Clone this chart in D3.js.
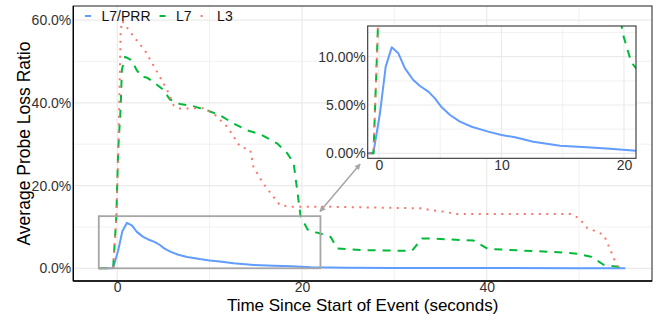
<!DOCTYPE html>
<html>
<head>
<meta charset="utf-8">
<script src="https://cdn.jsdelivr.net/npm/d3@7"></script>
<style>
  body { margin: 0; background: #fff; }
  svg { font-family: "Liberation Sans", Arial, sans-serif; }
  .tick text { fill: #333; font-size: 14px; }
</style>
</head>
<body>
<main></main>
<script>
//Series data (x in seconds, y in percent)
const seriesNames = ["L7/PRR", "L7", "L3"];
const seriesColors = ["#619CFF", "#00BA38", "#F8766D"];

const prrX = [-2, -0.46, 0.08, 0.55, 1.04, 1.58, 2.12, 2.8, 3.35, 4.03, 4.57, 5.12, 5.8, 6.61, 7.57, 8.92, 10.0, 11.1, 12.6, 14.78, 16.96, 18.86, 20.98, 25, 30, 40, 50, 55];
const prrY = [0, 0, 4.14, 8.97, 10.97, 10.35, 8.8, 7.59, 6.97, 6.38, 5.69, 4.76, 3.96, 3.27, 2.75, 2.24, 1.89, 1.66, 1.2, 0.79, 0.62, 0.48, 0.27, 0.15, 0.08, 0.05, 0.04, 0.02];

const l7X = [-2, -0.45, -0.1, 0.1, 0.37, 0.5, 0.85, 1.56, 2.1, 2.65, 3.2, 3.9, 5.0, 5.7, 6.8, 8.2, 9.7, 11.1, 12.6, 14.0, 15.5, 17.3, 18.4, 19.1, 19.85, 20.6, 21.0, 21.7, 23.1, 23.8, 26.7, 31.9, 33.0, 33.9, 38.6, 40.1, 48.4, 49.8, 51.3, 52.7, 54.2, 54.9];
const l7Y = [0, 0, 12.5, 28.6, 39, 48, 51.1, 50.3, 47.9, 46.3, 46.1, 45.1, 43.1, 40.8, 39.7, 39.2, 38.2, 37.0, 35.0, 33.4, 32.4, 30.2, 27.8, 25.4, 12.6, 9.4, 8.8, 8.6, 7.6, 4.8, 4.4, 4.2, 7.2, 7.2, 6.7, 4.7, 3.8, 3.5, 2.8, 0.8, 0.4, 0];

const l3X = [-2, -0.45, -0.1, 0.1, 0.37, 0.54, 1.7, 3.0, 4.3, 5.4, 6.1, 6.8, 9.3, 10.4, 11.9, 12.5, 13.3, 14.4, 14.75, 15.8, 16.9, 17.6, 18.7, 22.0, 32.8, 33.9, 35.3, 36.8, 49.1, 50.0, 50.9, 52.0, 52.7, 53.4, 54.0, 54.3];
const l3Y = [0, 0, 12.5, 26.9, 57.5, 59.8, 56.2, 52.6, 47.5, 43.1, 39.4, 38.6, 38.7, 37.5, 34.2, 32.2, 29.4, 28.6, 24.5, 20.5, 17.3, 15.3, 14.9, 14.9, 14.5, 14.1, 13.7, 13.1, 13.1, 12.1, 9.7, 8.8, 8.0, 4.4, 1.2, 0];

//Axis ticks
const mainXTicks = [0, 20, 40];
const mainXMinor = [10, 30, 50];
const mainYTicks = [0, 20, 40, 60];
const mainYMinor = [10, 30, 50];
const insetXTicks = [0, 10, 20];
const insetXMinor = [5, 15];
const insetYTicks = [0, 5, 10];
const insetYMinor = [2.5, 7.5, 12.5];

//Zoom box and arrow (data coords of main panel)
const zoomBox = { x0: -2, x1: 22, y0: 0, y1: 12.6 };
const arrowFrom = [21.95, 13.7];
const arrowTo = [26.3, 25.2];

const series = [
  { name: seriesNames[0], x: prrX, y: prrY, dash: null },
  { name: seriesNames[1], x: l7X, y: l7Y, dash: "8,7" },
  { name: seriesNames[2], x: l3X, y: l3Y, dash: "2,5.5" }
].map((s, i) => ({ ...s, color: seriesColors[i], pts: s.x.map((v, j) => [v, s.y[j]]) }));

const w = 658, h = 320;
const main = { left: 73.3, right: 652, top: 6, bottom: 281 };
const inset = { left: 367.7, right: 636, top: 26, bottom: 158.3 };

const svg = d3.select("main").append("svg").attr("width", w).attr("height", h);
const defs = svg.append("defs");

function panel(box, xDomain, yDomain, xTicks, xMinor, yTicks, yMinor, yFmt, id, bg) {
  const x = d3.scaleLinear().domain(xDomain).range([box.left, box.right]);
  const y = d3.scaleLinear().domain(yDomain).range([box.bottom, box.top]);
  const g = svg.append("g");

  defs.append("clipPath").attr("id", id)
    .append("rect").attr("x", box.left).attr("y", box.top)
    .attr("width", box.right - box.left).attr("height", box.bottom - box.top);

  if (bg) {
    g.append("rect").attr("x", box.left).attr("y", box.top)
      .attr("width", box.right - box.left).attr("height", box.bottom - box.top)
      .attr("fill", "#fff");
  }

  //grid
  const grid = g.append("g").attr("clip-path", "url(#" + id + ")");
  grid.selectAll(".vmin").data(xMinor).enter().append("line")
    .attr("x1", d => x(d)).attr("x2", d => x(d)).attr("y1", box.top).attr("y2", box.bottom)
    .attr("stroke", "#EFEFEF").attr("stroke-width", 0.9);
  grid.selectAll(".hmin").data(yMinor).enter().append("line")
    .attr("y1", d => y(d)).attr("y2", d => y(d)).attr("x1", box.left).attr("x2", box.right)
    .attr("stroke", "#EFEFEF").attr("stroke-width", 0.9);
  grid.selectAll(".vmaj").data(xTicks).enter().append("line")
    .attr("x1", d => x(d)).attr("x2", d => x(d)).attr("y1", box.top).attr("y2", box.bottom)
    .attr("stroke", "#EBEBEB").attr("stroke-width", 1.2);
  grid.selectAll(".hmaj").data(yTicks).enter().append("line")
    .attr("y1", d => y(d)).attr("y2", d => y(d)).attr("x1", box.left).attr("x2", box.right)
    .attr("stroke", "#EBEBEB").attr("stroke-width", 1.2);

  //axes
  const xAxis = g.append("g").attr("transform", "translate(0," + box.bottom + ")")
    .call(d3.axisBottom(x).tickValues(xTicks).tickSize(0).tickPadding(1.5).tickFormat(d3.format("d")));
  const yAxis = g.append("g").attr("transform", "translate(" + box.left + ",0)")
    .call(d3.axisLeft(y).tickValues(yTicks).tickSize(0).tickPadding(2).tickFormat(yFmt));
  xAxis.select(".domain").remove();
  yAxis.select(".domain").remove();
  g.selectAll(".tick text").attr("font-family", null).attr("font-size", null);

  return { g, x, y };
}

//Main panel
const mp = panel(main, [-4.76, 57.9], [-3.07, 63.39], mainXTicks, mainXMinor, mainYTicks, mainYMinor,
  d => d.toFixed(1) + "%", "clipMain", false);

const lineMain = d3.line().x(d => mp.x(d[0])).y(d => mp.y(d[1]));
const mainLines = mp.g.append("g").attr("clip-path", "url(#clipMain)");
series.forEach(s => {
  mainLines.append("path").attr("d", lineMain(s.pts))
    .attr("fill", "none").attr("stroke", s.color).attr("stroke-width", 2)
    .attr("stroke-dasharray", s.dash).attr("stroke-linejoin", "round");
});

mp.g.append("rect").attr("x", main.left).attr("y", main.top)
  .attr("width", main.right - main.left).attr("height", main.bottom - main.top)
  .attr("fill", "none").attr("stroke", "#333").attr("stroke-width", 1.1);
mp.g.append("line").attr("x1", main.left).attr("x2", main.left).attr("y1", main.top).attr("y2", main.bottom)
  .attr("stroke", "#000").attr("stroke-width", 1.3);
mp.g.append("line").attr("x1", main.left).attr("x2", main.right).attr("y1", main.bottom).attr("y2", main.bottom)
  .attr("stroke", "#000").attr("stroke-width", 1.3);

//Zoom box
mp.g.append("rect")
  .attr("x", mp.x(zoomBox.x0)).attr("y", mp.y(zoomBox.y1))
  .attr("width", mp.x(zoomBox.x1) - mp.x(zoomBox.x0))
  .attr("height", mp.y(zoomBox.y0) - mp.y(zoomBox.y1))
  .attr("fill", "none").attr("stroke", "#A6A6A6").attr("stroke-width", 1.8);

//Arrow (two heads)
defs.append("marker").attr("id", "head").attr("viewBox", "0 0 10 10")
  .attr("refX", 9).attr("refY", 5).attr("markerWidth", 6).attr("markerHeight", 6)
  .attr("orient", "auto-start-reverse").attr("markerUnits", "userSpaceOnUse")
  .append("path").attr("d", "M0,0 L10,5 L0,10 Z").attr("fill", "#A6A6A6");
mp.g.append("line")
  .attr("x1", mp.x(arrowFrom[0])).attr("y1", mp.y(arrowFrom[1]))
  .attr("x2", mp.x(arrowTo[0])).attr("y2", mp.y(arrowTo[1]))
  .attr("stroke", "#A6A6A6").attr("stroke-width", 1.5)
  .attr("marker-start", "url(#head)").attr("marker-end", "url(#head)");

//Legend
const legend = mp.g.append("g").attr("transform", "translate(0,16)");
let lx = 88;
series.forEach(s => {
  legend.append("line").attr("x1", lx - 3).attr("x2", lx + 3).attr("y1", 0).attr("y2", 0)
    .attr("stroke", s.color).attr("stroke-width", 2).attr("stroke-dasharray", s.dash);
  const t = legend.append("text").attr("x", lx + 13.5).attr("y", 5)
    .attr("font-size", 14).attr("fill", "#111").text(s.name);
  lx = lx + 13.5 + t.node().getComputedTextLength() + 12;
});

//Axis titles
svg.append("text").attr("x", (main.left + main.right) / 2).attr("y", 311)
  .attr("text-anchor", "middle").attr("font-size", 17).attr("fill", "#000")
  .text("Time Since Start of Event (seconds)");
svg.append("text").attr("transform", "translate(30," + (main.top + main.bottom) / 2 + ") rotate(-90)")
  .attr("text-anchor", "middle").attr("font-size", 17.5).attr("fill", "#000")
  .text("Average Probe Loss Ratio");

//Inset panel
const ip = panel(inset, [-0.92, 20.98], [-0.52, 13.18], insetXTicks, insetXMinor, insetYTicks, insetYMinor,
  d => d.toFixed(2) + "%", "clipInset", true);

const lineInset = d3.line().x(d => ip.x(d[0])).y(d => ip.y(d[1]));
const insetLines = ip.g.append("g").attr("clip-path", "url(#clipInset)");
series.forEach(s => {
  insetLines.append("path").attr("d", lineInset(s.pts))
    .attr("fill", "none").attr("stroke", s.color).attr("stroke-width", 2)
    .attr("stroke-dasharray", s.dash).attr("stroke-linejoin", "round");
});
ip.g.append("rect").attr("x", inset.left).attr("y", inset.top)
  .attr("width", inset.right - inset.left).attr("height", inset.bottom - inset.top)
  .attr("fill", "none").attr("stroke", "#333").attr("stroke-width", 1.1);
</script>
</body>
</html>
